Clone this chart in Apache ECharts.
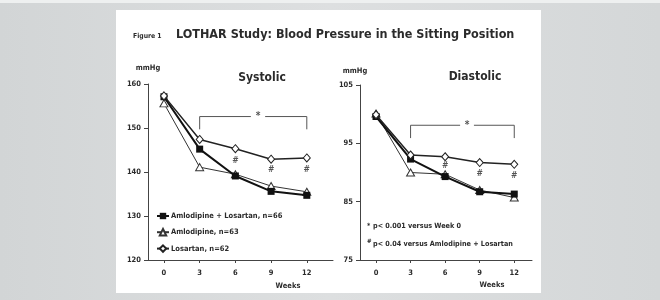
<!DOCTYPE html>
<html lang="en">
<head>
    <meta charset="UTF-8">
    <title>LOTHAR Study</title>
    <script src="https://cdn.jsdelivr.net/npm/echarts@6/dist/echarts.min.js"></script>
    <style>
        html, body { margin: 0; padding: 0; }
        #main { width: 660px; height: 300px; }
    </style>
</head>
<body>
<div id="main"></div>
<script>
    // weeks on the x axis
    var weeks = [0, 3, 6, 9, 12];
    var weekTicks = ['0', '3', '6', '9', '12'];
    var seriesNames = ['Amlodipine + Losartan, n=66', 'Amlodipine, n=63', 'Losartan, n=62'];

    // systolic (mmHg)
    var sysCombo = [157.1, 145.2, 139.1, 135.6, 134.7];
    var sysAmlo = [155.6, 141.1, 139.5, 136.8, 135.5];
    var sysLosa = [157.3, 147.4, 145.3, 142.9, 143.2];
    var sysTicks = [120, 130, 140, 150, 160];

    // diastolic (mmHg)
    var diaCombo = [99.6, 92.3, 89.3, 86.7, 86.3];
    var diaAmlo = [100.1, 90.0, 89.7, 87.0, 85.7];
    var diaLosa = [99.9, 93.0, 92.7, 91.7, 91.4];
    var diaTicks = [75, 85, 95, 105];

    // annotation positions (data units): # below losartan, bracket for *
    var sysHash = [[6, 142.6], [9, 140.6], [12, 140.6]];
    var diaHash = [[6, 91.1], [9, 89.8], [12, 89.5]];
    var sysBracket = [149.7, 152.6];
    var diaBracket = [95.9, 98.1];

    var FONT = '"Liberation Sans Narrow", "DejaVu Sans Condensed", Roboto, sans-serif';
    var INK = '#2b2b2b';

    function pairs(vals) {
        return weeks.map(function (w, i) { return [w, vals[i]]; });
    }

    function bracket(lo, hi) {
        return [[3, lo], [3, hi], [7.3, hi], [7.9, '-'], [8.5, hi], [12, hi], [12, lo]];
    }

    function lineSeries(name, vals, idx, kind) {
        var s = {
            name: name,
            type: 'line',
            xAxisIndex: idx,
            yAxisIndex: idx,
            data: pairs(vals),
            symbolKeepAspect: true,
            z: 3
        };
        if (kind === 'combo') {
            s.symbol = 'rect';
            s.symbolSize = 7;
            s.itemStyle = {color: '#111'};
            s.lineStyle = {color: '#111', width: 2};
            s.z = 4;
        } else if (kind === 'amlo') {
            s.symbol = 'triangle';
            s.symbolSize = [8, 7];
            s.itemStyle = {color: '#fff', borderColor: '#333', borderWidth: 1};
            s.lineStyle = {color: '#333', width: 1};
        } else {
            s.symbol = 'diamond';
            s.symbolSize = [7, 8];
            s.itemStyle = {color: '#fff', borderColor: '#222', borderWidth: 1};
            s.lineStyle = {color: '#222', width: 1.5};
            s.z = 5;
        }
        return s;
    }

    function markSeries(pts, text, idx, size) {
        return {
            type: 'scatter',
            xAxisIndex: idx,
            yAxisIndex: idx,
            data: pts,
            symbolSize: 1,
            itemStyle: {color: 'rgba(0,0,0,0)'},
            silent: true,
            label: {
                show: true,
                position: 'inside',
                formatter: text,
                color: INK,
                fontFamily: FONT,
                fontWeight: 'bold',
                fontSize: size
            },
            z: 6
        };
    }

    function bracketSeries(lo, hi, idx) {
        return {
            type: 'line',
            xAxisIndex: idx,
            yAxisIndex: idx,
            data: bracket(lo, hi),
            symbol: 'none',
            connectNulls: false,
            lineStyle: {color: '#555', width: 1},
            silent: true,
            z: 2
        };
    }

    function xAxis(idx, min, max) {
        return {
            type: 'value',
            gridIndex: idx,
            min: min,
            max: max,
            splitLine: {show: false},
            axisLine: {onZero: false, lineStyle: {color: '#444', width: 1}},
            axisTick: {show: true, length: 3, customValues: weeks, lineStyle: {color: '#444'}},
            axisLabel: {
                customValues: weeks,
                formatter: function (v) { return weekTicks[weeks.indexOf(v)]; },
                color: INK, fontFamily: FONT, fontWeight: 'bold', fontSize: 7.5, margin: 9
            }
        };
    }

    function yAxis(idx, ticks, gap, shift) {
        return {
            type: 'value',
            gridIndex: idx,
            min: ticks[0],
            max: ticks[ticks.length - 1],
            interval: 10,
            name: 'mmHg',
            nameLocation: 'end',
            nameGap: gap,
            nameTextStyle: {color: INK, fontFamily: FONT, fontWeight: 'bold', fontSize: 7.5, align: 'center', padding: [0, shift, 0, 0]},
            splitLine: {show: false},
            axisLine: {show: true, onZero: false, lineStyle: {color: '#444', width: 1}},
            axisTick: {show: true, length: 4, lineStyle: {color: '#444'}},
            axisLabel: {color: INK, fontFamily: FONT, fontWeight: 'bold', fontSize: 7.5, margin: 7}
        };
    }

    var myChart = echarts.init(document.getElementById('main'));

    var option = {
        animation: false,
        backgroundColor: {
            type: 'linear', x: 0, y: 0, x2: 1, y2: 0,
            colorStops: [
                {offset: 0, color: '#d2d5d6'},
                {offset: 0.5, color: '#dddfe0'},
                {offset: 1, color: '#d4d7d8'}
            ]
        },
        grid: [
            {left: 148, top: 84, width: 185, height: 176},
            {left: 360, top: 85, width: 172, height: 175}
        ],
        xAxis: [xAxis(0, -1.34, 14.2), xAxis(1, -1.39, 13.54)],
        yAxis: [yAxis(0, sysTicks, 12, 0), yAxis(1, diaTicks, 10, 10)],
        legend: {
            orient: 'vertical',
            left: 151,
            top: 207,
            itemWidth: 12,
            itemHeight: 8,
            itemGap: 8,
            data: seriesNames,
            selectedMode: false,
            textStyle: {color: INK, fontFamily: FONT, fontWeight: 'bold', fontSize: 7.5, padding: [0, 0, 0, -3]}
        },
        graphic: [
            {type: 'rect', shape: {x: 0, y: 0, width: 660, height: 3}, style: {fill: '#eef0f0'}, z: -1},
            {type: 'rect', shape: {x: 116, y: 10, width: 425, height: 283}, style: {fill: '#ffffff'}, z: -1},
            {type: 'text', x: 133, y: 36, style: {text: 'Figure 1', fill: INK, font: 'bold 6.8px ' + FONT, verticalAlign: 'middle'}},
            {type: 'text', x: 176, y: 35, style: {text: 'LOTHAR Study: Blood Pressure in the Sitting Position', fill: INK, font: 'bold 12.5px ' + FONT, verticalAlign: 'middle'}},
            {type: 'text', x: 262, y: 78, style: {text: 'Systolic', fill: INK, font: 'bold 12px ' + FONT, align: 'center', verticalAlign: 'middle'}},
            {type: 'text', x: 475, y: 77, style: {text: 'Diastolic', fill: INK, font: 'bold 12px ' + FONT, align: 'center', verticalAlign: 'middle'}},
            {type: 'text', x: 288, y: 286, style: {text: 'Weeks', fill: INK, font: 'bold 7.5px ' + FONT, align: 'center', verticalAlign: 'middle'}},
            {type: 'text', x: 492, y: 285, style: {text: 'Weeks', fill: INK, font: 'bold 7.5px ' + FONT, align: 'center', verticalAlign: 'middle'}},
            {type: 'text', x: 367, y: 226, style: {text: '*', fill: INK, font: 'bold 7px ' + FONT, verticalAlign: 'middle'}},
            {type: 'text', x: 373, y: 226, style: {text: 'p< 0.001 versus Week 0', fill: INK, font: 'bold 7.2px ' + FONT, verticalAlign: 'middle'}},
            {type: 'text', x: 367, y: 241, style: {text: '#', fill: INK, font: 'bold 6px ' + FONT, verticalAlign: 'middle'}},
            {type: 'text', x: 373, y: 244, style: {text: 'p< 0.04 versus Amlodipine + Losartan', fill: INK, font: 'bold 7.2px ' + FONT, verticalAlign: 'middle'}}
        ],
        series: [
            bracketSeries(sysBracket[0], sysBracket[1], 0),
            bracketSeries(diaBracket[0], diaBracket[1], 1),
            markSeries([[7.9, sysBracket[1]]], '*', 0, 10),
            markSeries([[7.9, diaBracket[1]]], '*', 1, 10),
            markSeries(sysHash, '#', 0, 8.5),
            markSeries(diaHash, '#', 1, 8.5),
            lineSeries(seriesNames[1], sysAmlo, 0, 'amlo'),
            lineSeries(seriesNames[0], sysCombo, 0, 'combo'),
            lineSeries(seriesNames[2], sysLosa, 0, 'losa'),
            lineSeries(seriesNames[1], diaAmlo, 1, 'amlo'),
            lineSeries(seriesNames[0], diaCombo, 1, 'combo'),
            lineSeries(seriesNames[2], diaLosa, 1, 'losa')
        ]
    };

    myChart.setOption(option);
</script>
</body>
</html>
